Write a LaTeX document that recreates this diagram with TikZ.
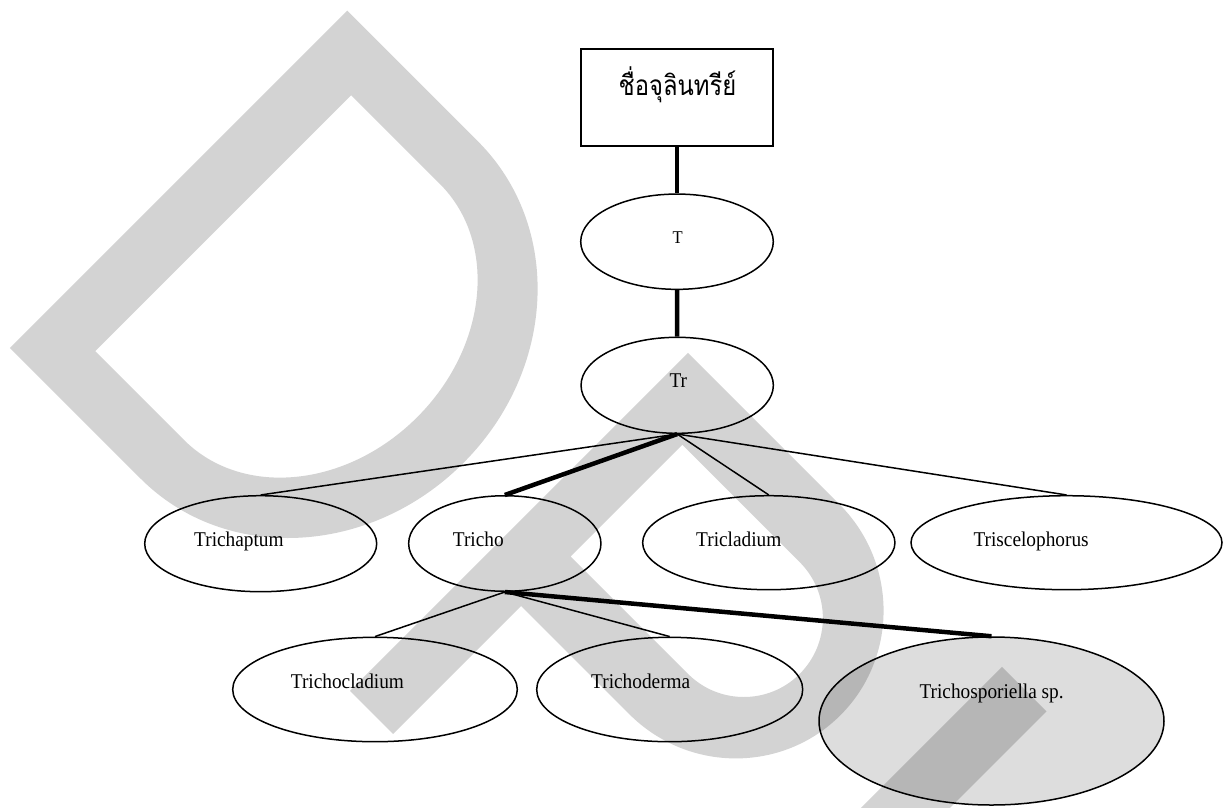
\documentclass[tikz,border=0pt]{standalone}
\usepackage{fontspec}
\setmainfont{Liberation Serif}[FakeStretch=0.92]
\newfontfamily\thaifont[Script=Thai,FakeStretch=0.85]{Loma}
\usetikzlibrary{shapes.geometric}
\definecolor{ovalfill}{RGB}{221,221,221}
\tikzset{
  titlebox/.style={draw, line width=2pt, inner sep=0pt},
  oval/.style={draw, ellipse, line width=1.5pt, inner sep=0pt},
  lbl/.style={anchor=base west, inner sep=0pt, font=\fontsize{21}{24}\selectfont},
  thinlink/.style={line width=1.5pt},
  thicklink/.style={line width=4.5pt},
  watermark/.style={fill=black, fill opacity=0.172, even odd rule}
}
\begin{document}
\begin{tikzpicture}[x=1pt,y=-1pt]
\useasboundingbox (0,0) rectangle (1224,807);

% title box
\node[titlebox, minimum width=192.6pt, minimum height=96.7pt] (root) at (677,97.7) {};
\node[anchor=base, inner sep=0pt, font=\thaifont\fontsize{28}{30}\selectfont] (rootlbl) at (677.5,95) {ชื่อจุลินทรีย์};

% genus ovals
\node[oval, minimum width=192.6pt, minimum height=95.3pt] (t) at (677,241.7) {};
\node[oval, minimum width=192.3pt, minimum height=96pt] (tr) at (677.2,385.3) {};
\node[oval, minimum width=232pt, minimum height=96pt] (trichaptum) at (260.7,543.7) {};
\node[oval, minimum width=192.3pt, minimum height=95.5pt] (tricho) at (504.8,543.5) {};
\node[oval, minimum width=252.3pt, minimum height=94pt] (tricladium) at (768.8,542.7) {};
\node[oval, minimum width=311pt, minimum height=94pt] (triscelophorus) at (1066.5,542.7) {};
\node[oval, minimum width=284.6pt, minimum height=104.4pt] (trichocladium) at (375,689.5) {};
\node[oval, minimum width=266pt, minimum height=104.4pt] (trichoderma) at (669.7,689.5) {};
\node[oval, fill=ovalfill, minimum width=345pt, minimum height=168pt] (trichosporiella) at (991.5,721) {};

% labels
\node[lbl, font=\fontsize{18}{20}\selectfont] (tlbl) at (672.5,243.3) {T};
\node[lbl] (trlbl) at (669.3,387.3) {Tr};
\node[lbl] (trichaptumlbl) at (194,546) {Trichaptum};
\node[lbl] (tricholbl) at (452.7,546) {Tricho};
\node[lbl] (tricladiumlbl) at (696,546) {Tricladium};
\node[lbl] (triscelophoruslbl) at (973.3,546) {Triscelophorus};
\node[lbl] (trichocladiumlbl) at (290.7,688.3) {Trichocladium};
\node[lbl] (trichodermalbl) at (591,688.3) {Trichoderma};
\node[lbl] (trichosporiellalbl) at (919.3,698.3) {Trichosporiella sp.};

% connectors
\draw[thicklink] (root.south) -- (t.north);
\draw[thicklink] (t.south) -- (tr.north);
\draw[thinlink] (tr.south) -- (trichaptum.north);
\draw[thicklink] (tr.south) -- (tricho.north);
\draw[thinlink] (tr.south) -- (tricladium.north);
\draw[thinlink] (tr.south) -- (triscelophorus.north);
\draw[thinlink] (tricho.south) -- (trichocladium.north);
\draw[thinlink] (tricho.south) -- (trichoderma.north);
\draw[thicklink] (tricho.south) -- (trichosporiella.north);

% translucent lettering laid over the sheet
\begin{scope}
\clip (0,0) rectangle (1224,807);
\begin{scope}[x=1pt, y=1pt, rotate=-45]
\fill[watermark]
  % D
  (253,-239) -- (438,-239) .. controls (557.9,-239) and (655,-132) .. (655,0)
  .. controls (655,132) and (557.9,238) .. (438,238) -- (253,238) -- cycle
  (315.6,-181) -- (441,-181) .. controls (523.3,-181) and (590,-100) .. (590,0)
  .. controls (590,100) and (523.3,181) .. (441,181) -- (315.6,181) -- cycle
  % P
  (736,-241) -- (736,237) -- (950,237) .. controls (1032.8,237) and (1100,170.5) .. (1100,88.5)
  .. controls (1100,6.5) and (1032.8,-60) .. (950,-60) -- (797,-60) -- (797,-241) -- cycle
  (797,10) -- (797,168) -- (963,168) .. controls (1006.6,168) and (1042,132.6) .. (1042,89)
  .. controls (1042,45.4) and (1006.6,10) .. (963,10) -- cycle
  % U
  (1180,237) -- (1180,-41) .. controls (1180,-151.5) and (1269.5,-241) .. (1380,-241)
  .. controls (1490.5,-241) and (1580,-151.5) .. (1580,-41) -- (1580,237) -- (1517,237)
  -- (1517,-41) .. controls (1517,-116.7) and (1455.7,-178) .. (1380,-178)
  .. controls (1304.3,-178) and (1243,-116.7) .. (1243,-41) -- (1243,237) -- cycle;
\end{scope}
\end{scope}
\end{tikzpicture}
\end{document}
